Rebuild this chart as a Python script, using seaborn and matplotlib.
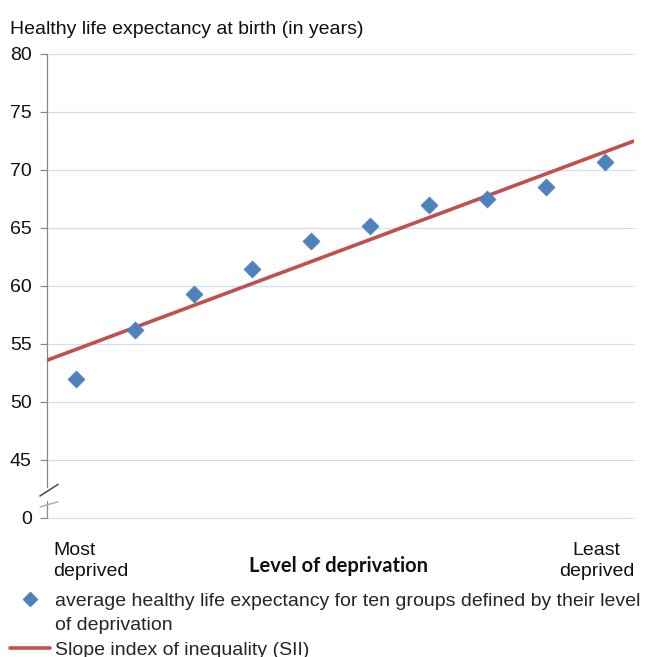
import matplotlib
matplotlib.use("Agg")
import matplotlib.pyplot as plt
import seaborn as sns
import pandas as pd
from matplotlib.lines import Line2D

# ---- data ----
groups = [1, 2, 3, 4, 5, 6, 7, 8, 9, 10]
hle = [52.0, 56.2, 59.3, 61.5, 63.9, 65.2, 67.0, 67.5, 68.5, 70.7]
sii_x = [0.5, 10.5]          # line spans the full axis (group edges)
sii_y = [53.6, 72.5]
ytick_vals = [40, 45, 50, 55, 60, 65, 70, 75, 80]
ytick_labels = ["0", "45", "50", "55", "60", "65", "70", "75", "80"]

title = "Healthy life expectancy at birth (in years)"
xlabel = "Level of deprivation"
left_label = "Most\ndeprived"
right_label = "Least\ndeprived"
legend_points_1 = "average healthy life expectancy for ten groups defined by their level"
legend_points_2 = "of deprivation"
legend_line = "Slope index of inequality (SII)"

df = pd.DataFrame({"group": groups, "hle": hle})
df_sii = pd.DataFrame({"x": sii_x, "y": sii_y})

sns.set_theme(style="white")
plt.rcParams["font.family"] = ["Liberation Sans", "DejaVu Sans"]

FS = 14

fig = plt.figure(figsize=(6.46, 6.57), dpi=100)
ax = fig.add_axes([47 / 646, 1 - 518 / 657, (634 - 47) / 646, (518 - 54) / 657])

blue = "#4f81bd"
red = "#c0504d"
grid_c = "#d3def0"
axis_c = "#888888"

sns.lineplot(data=df_sii, x="x", y="y", ax=ax, color=red, linewidth=2.6,
             zorder=3, legend=False)
sns.scatterplot(data=df, x="group", y="hle", ax=ax, marker="D", s=75,
                color=blue, edgecolor=blue, linewidth=0.5, zorder=4,
                legend=False)

ax.set_xlim(0.5, 10.5)
ax.set_ylim(40, 80)
ax.set_yticks(ytick_vals)
ax.set_yticklabels(ytick_labels, fontsize=FS, color="#111111")
ax.set_xticks([])
ax.set_xlabel("")
ax.set_ylabel("")

for v in ytick_vals:
    ax.axhline(v, color=grid_c, linewidth=0.9, zorder=0, clip_on=False)

for s in ["top", "right", "bottom"]:
    ax.spines[s].set_visible(False)
ax.spines["left"].set_color(axis_c)
ax.spines["left"].set_linewidth(0.9)
ax.spines["left"].set_bounds(42.7, 80)
ax.tick_params(axis="y", which="both", left=True, length=5, width=0.9,
               color=axis_c, pad=6)
# lower spine piece after the break
ax.plot([0.5, 0.5], [40, 41.5], color=axis_c, lw=0.9, clip_on=False, zorder=2)
# break marks (axes fraction x, data y)
trans = ax.get_yaxis_transform()
ax.plot([-7 / 587, 11 / 587], [41.9, 42.9], transform=trans, color="#555555",
        lw=1.2, clip_on=False)
ax.plot([-7 / 587, 11 / 587], [40.95, 41.4], transform=trans, color="#aaaaaa",
        lw=1.0, clip_on=False)

fig.text(10 / 646, 1 - 29 / 657, title, fontsize=FS, ha="left", va="center",
         color="#111111")
fig.text(53 / 646, 1 - 561 / 657, left_label, fontsize=FS, ha="left",
         va="center", linespacing=1.38, color="#111111")
fig.text(634 / 646, 1 - 561 / 657, right_label, fontsize=FS, ha="right",
         va="center", linespacing=1.38, multialignment="center", color="#111111")
fig.text(339 / 646, 1 - 566 / 657, xlabel, fontsize=14.5, ha="center",
         va="center", fontweight="bold", family=["Lato", "DejaVu Sans"],
         color="#111111")

handles = [
    Line2D([], [], marker="D", linestyle="none", color=blue, markersize=7),
    Line2D([], [], linestyle="none"),
    Line2D([], [], color=red, linewidth=2.6),
]
leg = fig.legend(handles, [legend_points_1, legend_points_2, legend_line],
                 loc="upper left",
                 bbox_to_anchor=(10 / 646, 1 - 592 / 657), frameon=False,
                 fontsize=FS, handlelength=2.05, handletextpad=0.25,
                 labelspacing=0.36, borderpad=0, borderaxespad=0)

fig.savefig("out.png", dpi=100)
